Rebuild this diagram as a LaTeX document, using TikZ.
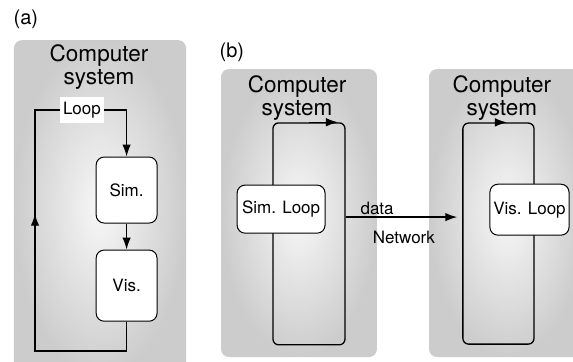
\documentclass[tikz,border=0pt]{standalone}
\usepackage{fontspec}
\setmainfont{TeX Gyre Heros}
\usepackage{tikz}
\usetikzlibrary{calc}
\usetikzlibrary{positioning}
\usetikzlibrary{arrows.meta}

\begin{document}
\begin{tikzpicture}[
    panel/.style={rounded corners=0.28cm, inner color=gray!6, outer color=gray!40},
    title/.style={align=center, font=\fontsize{22.5}{23}\selectfont, inner sep=0pt},
    block/.style={draw, fill=white, rounded corners=0.28cm, line width=1pt, font=\fontsize{17}{20}\selectfont},
    ring/.style={draw, rounded corners=0.2cm, line width=1.3pt, inner sep=0pt},
    wire/.style={line width=1.3pt},
    arr/.style={wire, -{Latex[length=12pt,width=8.5pt]}},
    lbl/.style={font=\fontsize{17}{20}\selectfont},
    tag/.style={font=\fontsize{20}{22}\selectfont}
  ]
  \clip (0,0) rectangle (20.14,-12.72);

  % (a) simulation and visualisation in the same loop
  \node[tag] (taga) at (0.91,-0.67) {(a)};
  \shade[panel] (0.49,-1.41) rectangle (6.54,-13.2);
  \node[title] (sysa) at (3.48,-2.36) {Computer\\system};
  \node[lbl, fill=white, inner sep=3pt, minimum height=0.9cm] (loopa) at (2.88,-3.87) {Loop};
  \node[block, minimum width=2.14cm, minimum height=2.32cm] (sim) at (4.45,-6.68) {Sim.};
  \node[block, minimum width=2.14cm, minimum height=2.50cm] (vis) at (4.45,-10.04) {Vis.};
  \coordinate (cornbot) at (1.23,-12.34);
  \coordinate (corntop) at (1.23,-3.87);

  \draw[arr] (loopa.east) -| (sim.north);
  \draw[arr] (sim) -- (vis);
  \draw[wire] (vis.south) |- (cornbot) -- (corntop) -- (loopa.west);
  \draw[arr] (cornbot) -- ($(cornbot)!0.57!(corntop)$);

  % (b) two machines, one loop each
  \node[tag] (tagb) at (8.15,-1.83) {(b)};
  \shade[panel] (7.77,-2.43) rectangle (13.25,-12.55);
  \shade[panel] (15.08,-2.43) rectangle (20.6,-12.55);
  \node[title] (sysb) at (10.44,-3.44) {Computer\\system};
  \node[title] (sysc) at (17.64,-3.44) {Computer\\system};

  \node[ring, minimum width=2.53cm, minimum height=7.80cm] (simring) at (10.86,-8.22) {};
  \node[ring, minimum width=2.50cm, minimum height=7.77cm] (visring) at (17.52,-8.21) {};
  \draw[arr] (simring.north) -- ++(1.02,0);
  \draw[arr] (visring.north) -- ++(0.30,0);

  \node[block, minimum width=3.09cm, minimum height=1.69cm] (simloop) at (9.88,-7.35) {Sim. Loop};
  \node[block, minimum width=2.71cm, minimum height=1.79cm] (visloop) at (18.61,-7.37) {Vis. Loop};

  \coordinate (link) at (0,-7.63);
  \draw[arr, shorten >=5pt] (simring.east |- link) -- (visring.west |- link)
    node[lbl, pos=0.27, above, inner sep=2pt] (data) {data}
    node[lbl, midway, below=10pt] (net) {Network};
\end{tikzpicture}
\end{document}
